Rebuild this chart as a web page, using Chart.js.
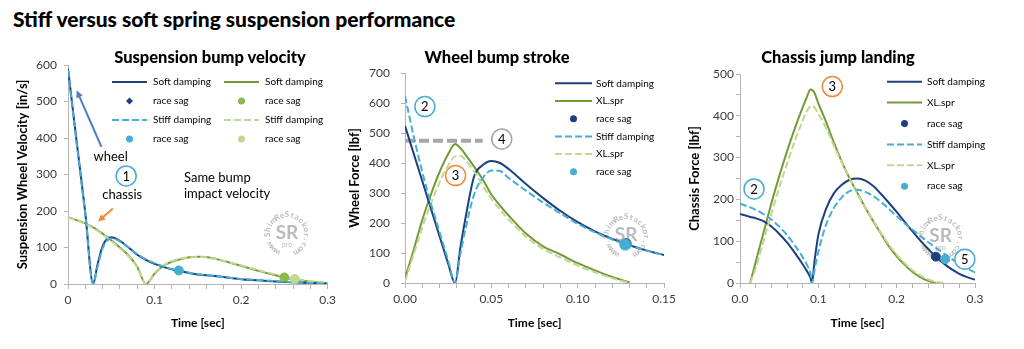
<!DOCTYPE html>
<html>
<head>
<meta charset="utf-8">
<script src="https://cdn.jsdelivr.net/npm/chart.js@4.4.1/dist/chart.umd.min.js"></script>
<style>
  html, body { margin: 0; padding: 0; background: #fff; }
  body { width: 1024px; height: 349px; position: relative; overflow: hidden; font-family: Lato, sans-serif; }
  .box { position: absolute; top: 40px; width: 340px; height: 300px; }
  #title { position: absolute; left: 13px; top: 6px; font: 900 21px Lato, sans-serif; color: #000; white-space: nowrap; }
  .ptitle { position: absolute; top: 47px; font: 900 16.5px Lato, sans-serif; color: #000; transform: translateX(-50%); white-space: nowrap; z-index: 2; }
</style>
</head>
<body>
<div id="title">Stiff versus soft spring suspension performance</div>
<div class="box" style="left:0"><canvas id="velChart" width="340" height="300"></canvas></div>
<div class="box" style="left:340px"><canvas id="strokeChart" width="340" height="300"></canvas></div>
<div class="box" style="left:680px"><canvas id="landChart" width="340" height="300"></canvas></div>
<div class="ptitle" style="left:210px">Suspension bump velocity</div>
<div class="ptitle" style="left:497px">Wheel bump stroke</div>
<div class="ptitle" style="left:838px">Chassis jump landing</div>
<script>
// ---- panel 1: suspension bump velocity [in/s] ----
const velTime = [0, 0.01, 0.02, 0.029, 0.034, 0.04, 0.05, 0.06, 0.07, 0.08, 0.09, 0.1, 0.11, 0.12, 0.13, 0.14, 0.15, 0.16, 0.18, 0.2, 0.22, 0.24, 0.26, 0.28, 0.3];
const wheelSoft = [590, 390, 195, 0, 52, 104, 128, 118, 100, 80, 66, 55, 47, 40, 35, 30, 26, 24, 19, 13, 10, 7, 5, 3, 0];
const wheelStiff = [585, 385, 190, 0, 45, 98, 125, 117, 100, 82, 68, 57, 48, 41, 36, 31, 27, 24, 19, 14, 11, 8, 5, 3, 1];
const chassisSoft = [183, 175, 166, 155, 148, 138, 120, 100, 78, 47, 0, 28, 50, 61, 68, 73, 75, 74, 63, 50, 36, 24, 13, 6, 2];
const chassisStiff = [182, 174, 165, 153, 146, 136, 118, 98, 76, 46, 0, 30, 51, 62, 69, 73, 74, 73, 63, 51, 38, 26, 15, 8, 3];
// race sag points: wheel soft, wheel stiff, chassis soft, chassis stiff
const velSagX = [0.127, 0.128, 0.25, 0.262];
const velSagY = [37, 37, 18, 14];

// ---- panel 2: wheel bump stroke [lbf] ----
const strokeTime = [0, 0.005, 0.01, 0.015, 0.02, 0.025, 0.029, 0.032, 0.035, 0.04, 0.045, 0.05, 0.055, 0.06, 0.07, 0.08, 0.09, 0.1, 0.11, 0.12, 0.13, 0.14, 0.15];
const wheelForceSoft = [524, 432, 340, 248, 156, 64, 0, 116, 216, 355, 393, 407, 400, 380, 330, 283, 240, 203, 172, 147, 126, 108, 93];
const wheelForceStiff = [623, 490, 370, 265, 170, 75, 0, 95, 180, 295, 350, 375, 373, 350, 308, 268, 232, 197, 169, 145, 125, 108, 93];
const wheelSpringSoft = [15, 110, 210, 295, 370, 430, 463, 450, 428, 388, 345, 295, 258, 225, 165, 122, 95, 66, 42, 20, 2, null, null];
const wheelSpringStiff = [5, 95, 185, 265, 335, 392, 422, 424, 410, 372, 325, 280, 245, 212, 155, 113, 85, 58, 36, 16, 0, null, null];
const strokeSagX = [0.128, 0.1275];
const strokeSagY = [131, 128];
const limitX = [0, 0.045];
const limitY = [474, 474];

// ---- panel 3: chassis jump landing [lbf] ----
const landTime = [0, 0.01, 0.013, 0.02, 0.03, 0.04, 0.05, 0.06, 0.07, 0.08, 0.085, 0.09, 0.092, 0.095, 0.1, 0.11, 0.12, 0.13, 0.14, 0.15, 0.16, 0.17, 0.18, 0.19, 0.2, 0.21, 0.22, 0.23, 0.24, 0.25, 0.26, 0.27, 0.28, 0.29, 0.3];
const landForceSoft = [165, 160, 158, 155, 148, 135, 118, 97, 72, 45, 30, 12, 0, 50, 115, 178, 215, 235, 247, 250, 245, 232, 213, 192, 170, 147, 124, 102, 82, 63, 47, 33, 22, 14, 8];
const landForceStiff = [190, 183, 181, 175, 165, 152, 135, 115, 90, 62, 45, 22, 0, 30, 75, 140, 180, 205, 220, 223, 218, 208, 194, 177, 160, 143, 128, 113, 98, 84, 71, 58, 46, 35, 25];
const landSpringSoft = [null, null, 0, 50, 120, 190, 255, 315, 370, 420, 443, 463, 462, 455, 430, 385, 335, 290, 250, 215, 180, 148, 118, 88, 64, 44, 27, 14, 5, 0, null, null, null, null, null];
const landSpringStiff = [null, null, 0, 35, 100, 165, 228, 285, 340, 388, 410, 423, 424, 420, 405, 370, 328, 288, 250, 213, 180, 150, 120, 92, 68, 48, 31, 18, 9, 3, 0, null, null, null, null];
const landSagX = [0.25, 0.262];
const landSagY = [63, 57];

const navy = '#1d3f7e';
const aqua = '#45aed2';
const olive = '#739a37';
const lime = '#c0d891';
const axisGray = '#b4b4b4';
const orange = '#f08a3c';

function series(xs, ys) {
    return xs.map((t, i) => ({ x: t, y: ys[i] }));
}

function lineSet(label, xs, ys, color, dashed) {
    return {
        label: label,
        data: series(xs, ys),
        borderColor: color,
        backgroundColor: color,
        borderWidth: 2,
        borderDash: dashed ? [7, 3] : [],
        pointRadius: 0,
        cubicInterpolationMode: 'monotone',
        order: dashed ? 1 : 2
    };
}

// order: lower number is painted later (on top)
function sagSet(label, x, y, color, radius, order, style) {
    return {
        label: label,
        data: [{ x: x, y: y }],
        showLine: false,
        pointRadius: radius,
        pointStyle: style || 'circle',
        backgroundColor: color,
        borderColor: color,
        order: order
    };
}

function isMultiple(v, step) {
    const r = v / step;
    return Math.abs(r - Math.round(r)) < 1e-6;
}

function drawMarker(ctx, d, x, y, r) {
    ctx.fillStyle = d.backgroundColor;
    ctx.beginPath();
    if (d.pointStyle === 'rectRot') {
        ctx.moveTo(x, y - r); ctx.lineTo(x + r, y); ctx.lineTo(x, y + r); ctx.lineTo(x - r, y);
        ctx.closePath();
    } else {
        ctx.arc(x, y, r, 0, Math.PI * 2);
    }
    ctx.fill();
}

function drawArrow(ctx, x1, y1, x2, y2, color) {
    const a = Math.atan2(y2 - y1, x2 - x1);
    const h = 8;
    ctx.strokeStyle = color;
    ctx.fillStyle = color;
    ctx.lineWidth = 2;
    ctx.beginPath();
    ctx.moveTo(x1, y1);
    ctx.lineTo(x2 - Math.cos(a) * h * 0.8, y2 - Math.sin(a) * h * 0.8);
    ctx.stroke();
    ctx.beginPath();
    ctx.moveTo(x2, y2);
    ctx.lineTo(x2 - h * Math.cos(a - 0.45), y2 - h * Math.sin(a - 0.45));
    ctx.lineTo(x2 - h * Math.cos(a + 0.45), y2 - h * Math.sin(a + 0.45));
    ctx.closePath();
    ctx.fill();
}

function drawMark(ctx, cx, cy) {
    const txt = 'www.ShimReStackor.com';
    const r = 20;
    const start = -150 * Math.PI / 180, span = 300 * Math.PI / 180;
    ctx.save();
    ctx.fillStyle = 'rgba(140,140,140,0.6)';
    ctx.textAlign = 'center';
    ctx.textBaseline = 'middle';
    ctx.font = 'bold 8px Lato';
    for (let i = 0; i < txt.length; i++) {
        ctx.save();
        ctx.translate(cx, cy);
        ctx.rotate(start + span * i / (txt.length - 1));
        ctx.fillText(txt[i], 0, -r);
        ctx.restore();
    }
    ctx.font = 'bold 19px Lato';
    ctx.fillText('SR', cx, cy - 2);
    ctx.font = '7px Lato';
    ctx.fillText('pro', cx, cy + 10);
    ctx.restore();
}

// notes, circles, arrows, legend and watermark drawn over the plot
const overlay = {
    id: 'overlay',
    beforeDatasetsDraw(chart, args, o) {
        if (!o.mark) return;
        drawMark(chart.ctx, chart.scales.x.getPixelForValue(o.mark[0]), chart.scales.y.getPixelForValue(o.mark[1]));
    },
    afterDatasetsDraw(chart, args, o) {
        const ctx = chart.ctx;
        const sx = chart.scales.x, sy = chart.scales.y;
        ctx.save();
        (o.arrows || []).forEach(a => {
            drawArrow(ctx, sx.getPixelForValue(a.from[0]), sy.getPixelForValue(a.from[1]),
                sx.getPixelForValue(a.to[0]), sy.getPixelForValue(a.to[1]), a.color);
        });
        ctx.textBaseline = 'middle';
        (o.notes || []).forEach(n => {
            ctx.fillStyle = '#000';
            ctx.font = '13px Lato';
            ctx.textAlign = n.align || 'center';
            ctx.fillText(n.text, sx.getPixelForValue(n.x), sy.getPixelForValue(n.y));
        });
        (o.circles || []).forEach(c => {
            const px = sx.getPixelForValue(c.x), py = sy.getPixelForValue(c.y);
            ctx.fillStyle = '#fff';
            ctx.strokeStyle = c.color;
            ctx.lineWidth = 1.5;
            ctx.beginPath();
            ctx.arc(px, py, 10, 0, Math.PI * 2);
            ctx.fill();
            ctx.stroke();
            ctx.fillStyle = '#000';
            ctx.font = '13px Lato';
            ctx.textAlign = 'center';
            ctx.fillText(c.text, px, py + 0.5);
        });
        const lg = o.legend;
        if (lg) {
            chart.data.datasets.filter(d => !d.noLegend).forEach((d, i) => {
                const col = Math.floor(i / lg.perCol), row = i % lg.perCol;
                const x = lg.x + col * lg.colDx, y = lg.y + row * lg.dy;
                if (d.showLine === false) {
                    drawMarker(ctx, d, x + lg.len / 2, y, d.pointStyle === 'rectRot' ? 3.5 : 3.5);
                } else {
                    ctx.strokeStyle = d.borderColor;
                    ctx.lineWidth = d.borderWidth;
                    ctx.setLineDash(d.borderDash);
                    ctx.beginPath();
                    ctx.moveTo(x, y);
                    ctx.lineTo(x + lg.len, y);
                    ctx.stroke();
                    ctx.setLineDash([]);
                }
                ctx.fillStyle = '#000';
                ctx.font = '10px Lato';
                ctx.textAlign = 'left';
                ctx.fillText(d.label, x + lg.len + lg.gap, y);
            });
        }
        ctx.restore();
    }
};

function makeChart(id, datasets, ax, overlayOpts) {
    const tickFont = { family: 'Lato', size: 12 };
    const titleFont = { family: 'Lato', size: 13, weight: 'bold' };
    return new Chart(document.getElementById(id), {
        type: 'line',
        data: { datasets: datasets },
        plugins: [overlay],
        options: {
            responsive: false,
            animation: false,
            devicePixelRatio: 1,
            layout: { padding: { left: 0, right: ax.padRight, top: ax.padTop, bottom: 0 } },
            plugins: { legend: { display: false }, tooltip: { enabled: false }, overlay: overlayOpts },
            scales: {
                x: {
                    type: 'linear', min: ax.xMin, max: ax.xMax,
                    ticks: {
                        stepSize: ax.xStep, autoSkip: false, maxRotation: 0, padding: 4,
                        color: '#3a3a3a', font: tickFont,
                        callback: v => isMultiple(v, ax.xMajor) ? ax.xFmt(v) : ''
                    },
                    grid: { drawOnChartArea: false, tickLength: 5, color: axisGray },
                    border: { color: axisGray },
                    title: { display: true, text: 'Time [sec]', color: '#000', font: { family: 'Lato', size: 12, weight: 'bold' }, padding: { top: 0, bottom: 10 } },
                    afterFit: s => { s.height = ax.xHeight; }
                },
                y: {
                    min: 0, max: ax.yMax,
                    ticks: {
                        stepSize: ax.yStep, padding: ax.yPad, color: '#3a3a3a', font: tickFont,
                        callback: v => isMultiple(v, ax.yMajor) ? String(v) : ''
                    },
                    grid: { drawOnChartArea: false, tickLength: 4, color: axisGray },
                    border: { color: axisGray },
                    title: { display: true, text: ax.yTitle, color: '#000', font: titleFont, padding: { top: ax.yTitlePad, bottom: 0 } },
                    afterFit: s => { s.width = ax.yWidth; }
                }
            }
        }
    });
}

const limitSet = lineSet('limit', limitX, limitY, '#a6a6a6', true);
limitSet.borderWidth = 4;
limitSet.borderDash = [10, 4];
limitSet.noLegend = true;
limitSet.order = 3;

const velChart = makeChart('velChart', [
    lineSet('Soft damping', velTime, wheelSoft, navy, false),
    sagSet('race sag', velSagX[0], velSagY[0], navy, 4, 0, 'rectRot'),
    lineSet('Stiff damping', velTime, wheelStiff, aqua, true),
    sagSet('race sag', velSagX[1], velSagY[1], aqua, 4.5, -1),
    lineSet('Soft damping', velTime, chassisSoft, olive, false),
    sagSet('race sag', velSagX[2], velSagY[2], '#8cb84c', 4.5, 0),
    lineSet('Stiff damping', velTime, chassisStiff, lime, true),
    sagSet('race sag', velSagX[3], velSagY[3], lime, 4.5, -1)
], {
    xMin: 0, xMax: 0.3, xStep: 0.02, xMajor: 0.1, xFmt: v => String(Math.round(v * 10) / 10),
    yMax: 600, yStep: 100, yMajor: 100, yPad: 7, yWidth: 68, yTitle: 'Suspension Wheel Velocity [in/s]', yTitlePad: 15,
    padRight: 10, padTop: 25, xHeight: 56
}, {
    legend: { x: 112, y: 42, dy: 19, colDx: 112, perCol: 4, len: 35, gap: 6 },
    circles: [{ x: 0.0672, y: 296, text: '1', color: aqua }],
    notes: [
        { x: 0.0492, y: 349, text: 'wheel' },
        { x: 0.0626, y: 244, text: 'chassis' },
        { x: 0.134, y: 290, text: 'Same bump', align: 'left' },
        { x: 0.134, y: 247, text: 'impact velocity', align: 'left' }
    ],
    arrows: [
        { from: [0.0386, 376], to: [0.010, 531], color: '#4f7fc0' },
        { from: [0.0519, 207], to: [0.0347, 171], color: orange }
    ],
    mark: [0.253, 135]
});

const strokeChart = makeChart('strokeChart', [
    lineSet('Soft damping', strokeTime, wheelForceSoft, navy, false),
    lineSet('XL.spr', strokeTime, wheelSpringSoft, olive, false),
    sagSet('race sag', strokeSagX[0], strokeSagY[0], navy, 5, 0),
    lineSet('Stiff damping', strokeTime, wheelForceStiff, aqua, true),
    lineSet('XL.spr', strokeTime, wheelSpringStiff, lime, true),
    sagSet('race sag', strokeSagX[1], strokeSagY[1], aqua, 5.5, -1),
    limitSet
], {
    xMin: 0, xMax: 0.15, xStep: 0.01, xMajor: 0.05, xFmt: v => v.toFixed(2),
    yMax: 700, yStep: 100, yMajor: 100, yPad: 11, yWidth: 65, yTitle: 'Wheel Force [lbf]', yTitlePad: 7,
    padRight: 15, padTop: 33, xHeight: 57
}, {
    legend: { x: 215, y: 43.3, dy: 17.7, colDx: 0, perCol: 6, len: 37, gap: 4 },
    circles: [
        { x: 0.0115, y: 588, text: '2', color: aqua },
        { x: 0.0293, y: 358, text: '3', color: orange },
        { x: 0.056, y: 480, text: '4', color: '#a6a6a6' }
    ],
    mark: [0.128, 154]
});

const landChart = makeChart('landChart', [
    lineSet('Soft damping', landTime, landForceSoft, navy, false),
    lineSet('XL.spr', landTime, landSpringSoft, olive, false),
    sagSet('race sag', landSagX[0], landSagY[0], navy, 4.5, 0),
    lineSet('Stiff damping', landTime, landForceStiff, aqua, true),
    lineSet('XL.spr', landTime, landSpringStiff, lime, true),
    sagSet('race sag', landSagX[1], landSagY[1], aqua, 4.5, -1)
], {
    xMin: 0, xMax: 0.3, xStep: 0.02, xMajor: 0.1, xFmt: v => v.toFixed(1),
    yMax: 500, yStep: 50, yMajor: 100, yPad: 2, yWidth: 60, yTitle: 'Chassis Force [lbf]', yTitlePad: 7,
    padRight: 45, padTop: 34, xHeight: 57
}, {
    legend: { x: 207, y: 41.7, dy: 20.9, colDx: 0, perCol: 6, len: 35, gap: 5 },
    circles: [
        { x: 0.0179, y: 225, text: '2', color: aqua },
        { x: 0.1178, y: 470, text: '3', color: orange },
        { x: 0.287, y: 57, text: '5', color: aqua }
    ],
    mark: [0.256, 108]
});
</script>
</body>
</html>
